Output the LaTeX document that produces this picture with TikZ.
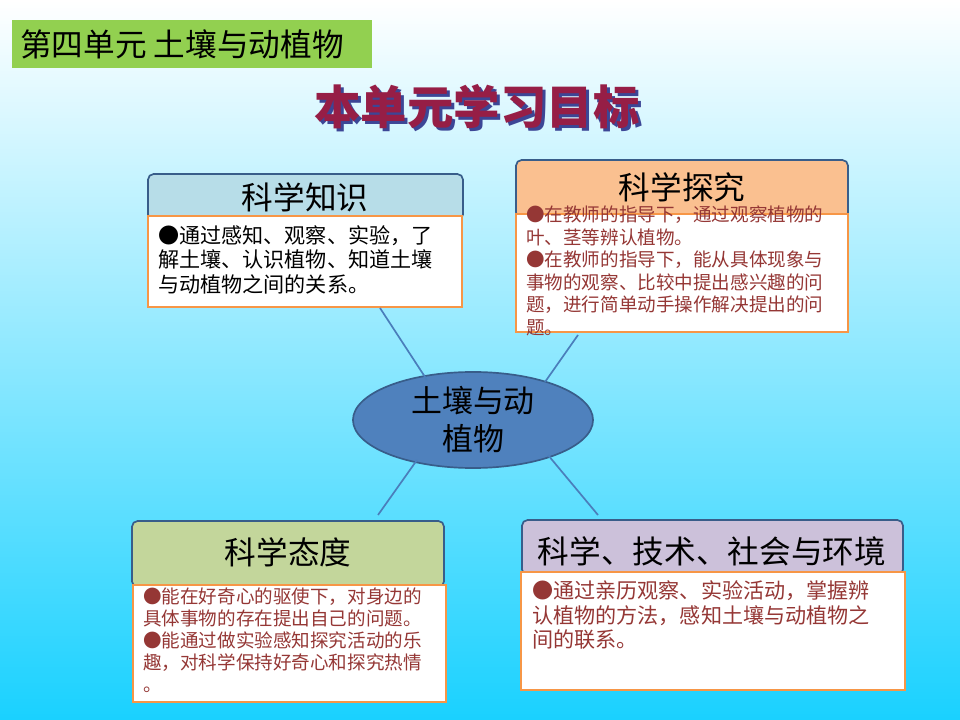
\documentclass[tikz,border=0pt]{standalone}
\usepackage{fontspec}
\newfontfamily\cjk{Noto Sans CJK SC}
\usetikzlibrary{shapes.geometric}
\definecolor{bord}{HTML}{385D8A}
\definecolor{org}{HTML}{F79646}
\definecolor{rb}{HTML}{953735}
\definecolor{ln}{HTML}{4A7EBB}
\tikzset{x=0.025cm,y=-0.025cm,
 head/.style={draw=bord,line width=1.2pt,rounded corners=4pt},
 body/.style={draw=org,line width=1.4pt,fill=white},
 htext/.style={font=\cjk\fontsize{22.5}{24}\selectfont,anchor=center},
 btext/.style={font=\cjk\fontsize{13.2}{16}\selectfont,anchor=north west,align=left,inner sep=0pt,text=rb},
 conn/.style={draw=ln,line width=1.2pt}}
\begin{document}
\begin{tikzpicture}
\shade[top color=white,bottom color=cyan!80!blue!90] (0,0) rectangle (960,720);
\useasboundingbox (0,0) rectangle (960,720);
\fill[color={rgb,255:red,146;green,208;blue,80}] (12,20) rectangle (372,68);
\node[font=\cjk\fontsize{22.5}{24}\selectfont,anchor=west,inner sep=0pt] (t0) at (20,44) {第四单元 土壤与动植物};
\node[font=\cjk\bfseries\fontsize{33}{36}\selectfont,text={rgb,255:red,60;green,70;blue,150}] (tsh) at (480,110) {本单元学习目标};
\node[font=\cjk\bfseries\fontsize{33}{36}\selectfont,text={rgb,255:red,150;green,30;blue,70}] (t1) at (477,107) {本单元学习目标};
% box1
\draw[head,fill={rgb,255:red,183;green,221;blue,232}] (148,174) rectangle (463,220);
\node[htext] (h1) at (305,197) {科学知识};
\draw[body] (148,216) rectangle (462,307);
\node[btext,text=black,font=\cjk\fontsize{15}{17.4}\selectfont] (b1) at (158,225) {●通过感知、观察、实验，了\\解土壤、认识植物、知道土壤\\与动植物之间的关系。};
% box2
\draw[head,fill={rgb,255:red,250;green,192;blue,144}] (516,160) rectangle (848,218);
\node[htext] (h2) at (682,187) {科学探究};
\draw[body] (516,214) rectangle (848,332);
\node[btext] (b2) at (526,206) {●在教师的指导下，通过观察植物的\\叶、茎等辨认植物。\\●在教师的指导下，能从具体现象与\\事物的观察、比较中提出感兴趣的问\\题，进行简单动手操作解决提出的问\\题。};
% ellipse
\node[ellipse,draw=bord,line width=1.2pt,fill={rgb,255:red,79;green,129;blue,189},minimum width=6cm,minimum height=2.4cm,inner sep=0pt,font=\cjk\fontsize{22}{27}\selectfont,align=center] (e) at (473,420) {土壤与动\\植物};
% box3
\draw[head,fill={rgb,255:red,195;green,214;blue,155}] (132,521) rectangle (444,587);
\node[htext] (h3) at (288,552) {科学态度};
\draw[body] (133,585) rectangle (446,702);
\node[btext,font=\cjk\fontsize{13.2}{15.6}\selectfont] (b3) at (143,588) {●能在好奇心的驱使下，对身边的\\具体事物的存在提出自己的问题。\\●能通过做实验感知探究活动的乐\\趣，对科学保持好奇心和探究热情\\。};
% box4
\draw[head,fill={rgb,255:red,204;green,193;blue,218}] (522,520) rectangle (903,575);
\node[htext] (h4) at (712,551) {科学、技术、社会与环境};
\draw[body] (521,572) rectangle (905,690);
\node[btext,font=\cjk\fontsize{15}{17.7}\selectfont] (b4) at (532,580) {●通过亲历观察、实验活动，掌握辨\\认植物的方法，感知土壤与动植物之\\间的联系。};
% connectors
\coordinate (c1a) at (380,308); \coordinate (c1b) at (427,380);
\coordinate (c2a) at (578,335); \coordinate (c2b) at (545,382);
\coordinate (c3a) at (417,460); \coordinate (c3b) at (378,515);
\coordinate (c4a) at (548,455); \coordinate (c4b) at (598,515);
\draw[conn] (c1a) -- (c1b); \draw[conn] (c2a) -- (c2b);
\draw[conn] (c3a) -- (c3b); \draw[conn] (c4a) -- (c4b);
\end{tikzpicture}
\end{document}
